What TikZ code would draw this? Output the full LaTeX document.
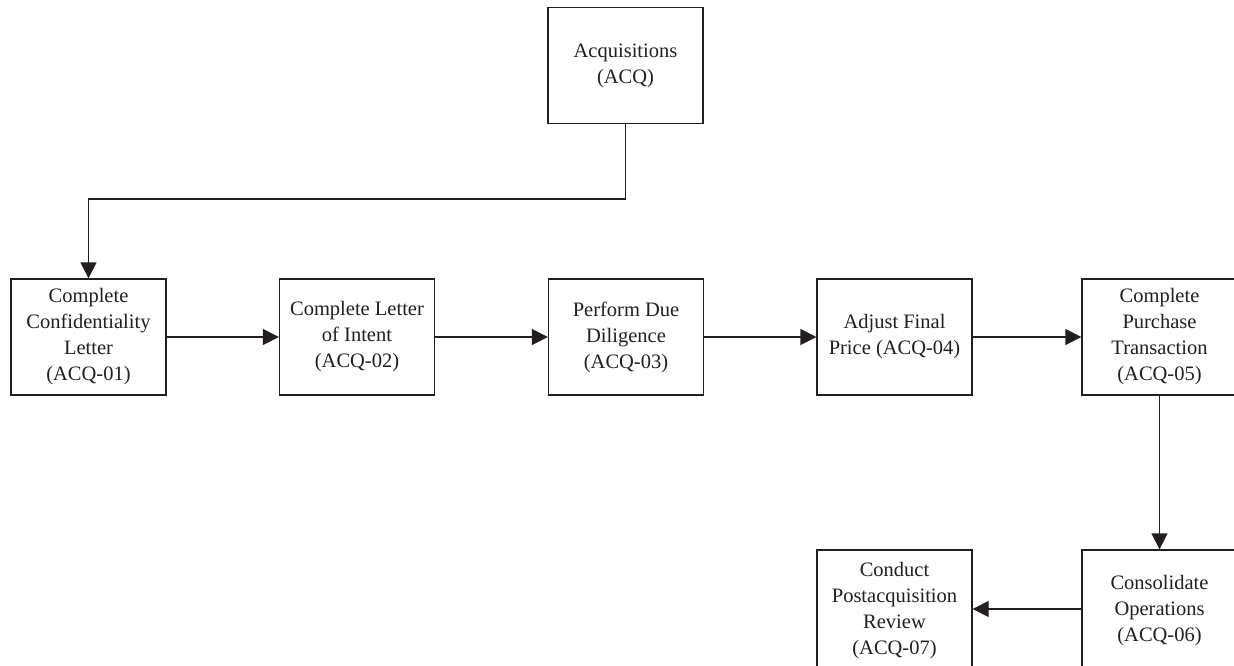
\documentclass[tikz,border=0pt]{standalone}
\usepackage{fontspec}
\setmainfont{Liberation Serif}
\usetikzlibrary{arrows.meta}
\definecolor{ink}{HTML}{231F20}
\begin{document}
\begin{tikzpicture}[x=1pt,y=-1pt,
  box/.style={draw=ink, text=ink, line width=1.3pt, minimum width=155pt,
    minimum height=116pt, align=center, inner sep=0pt,
    font=\fontsize{20.5}{26}\selectfont},
  flow/.style={draw=ink, line width=1.3pt,
    -{Triangle[length=16pt,width=16pt]}}]
\clip (0,0) rectangle (1234,665);
\fill[white] (0,0) rectangle (1234,665);

% top-level process
\node[box] (acq) at (625.5,65.5) {Acquisitions\\(ACQ)};

% main sequence
\node[box] (c1) at (88.5,337)  {Complete\\Confidentiality\\Letter\\(ACQ-01)};
\node[box] (c2) at (357,337)   {Complete Letter\\of Intent\\(ACQ-02)};
\node[box] (c3) at (626,337)   {Perform Due\\Diligence\\(ACQ-03)};
\node[box] (c4) at (894.5,337) {Adjust Final\\Price (ACQ-04)};
\node[box] (c5) at (1159.5,337) {Complete\\Purchase\\Transaction\\(ACQ-05)};

% follow-up steps (they run past the lower edge of the sheet)
\node[box, minimum height=122pt] (c6) at (1159.5,611) {Consolidate\\Operations\\(ACQ-06)};
\node[box, minimum height=122pt] (c7) at (894.5,611)  {Conduct\\Postacquisition\\Review\\(ACQ-07)};

% connectors
\coordinate (bend) at (0,199);
\draw[flow] (acq.south) -- (acq.south |- bend) -| (c1.north);
\draw[flow] (c1) -- (c2);
\draw[flow] (c2) -- (c3);
\draw[flow] (c3) -- (c4);
\draw[flow] (c4) -- (c5);
\draw[flow] (c5) -- (c6);
\draw[flow] (c6.west |- 0,609) -- (c7.east |- 0,609);
\end{tikzpicture}
\end{document}
